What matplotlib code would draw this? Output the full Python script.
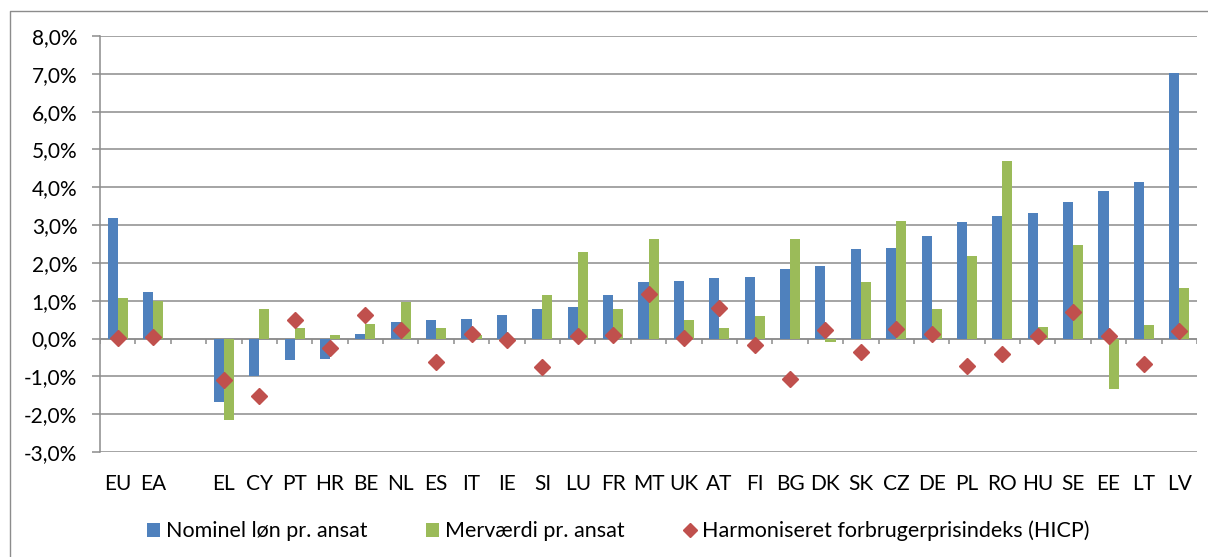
import numpy as np
import matplotlib
matplotlib.use("Agg")
import matplotlib.pyplot as plt
from matplotlib.lines import Line2D
from matplotlib.patches import Patch
from matplotlib.ticker import FuncFormatter

plt.rcParams["font.family"] = ["Lato", "DejaVu Sans"]

lande = ["EU", "EA", "", "EL", "CY", "PT", "HR", "BE", "NL", "ES", "IT", "IE",
         "SI", "LU", "FR", "MT", "UK", "AT", "FI", "BG", "DK", "SK", "CZ", "DE",
         "PL", "RO", "HU", "SE", "EE", "LT", "LV"]

nominel_loen = [3.18, 1.23, np.nan, -1.67, -1.00, -0.57, -0.55, 0.13, 0.43, 0.50,
                0.51, 0.62, 0.78, 0.84, 1.14, 1.49, 1.51, 1.61, 1.63, 1.83, 1.92,
                2.36, 2.40, 2.72, 3.08, 3.23, 3.31, 3.61, 3.89, 4.13, 7.03]

mervaerdi = [1.07, 0.99, np.nan, -2.16, 0.78, 0.28, 0.09, 0.38, 0.97, 0.27,
             0.09, 0.0, 1.15, 2.29, 0.78, 2.63, 0.48, 0.29, 0.59, 2.63, -0.10,
             1.50, 3.12, 0.78, 2.19, 4.69, 0.30, 2.47, -1.33, 0.35, 1.33]

hicp = [0.02, 0.03, np.nan, -1.10, -1.52, 0.50, -0.26, 0.62, 0.22, -0.63,
        0.13, -0.03, -0.75, 0.06, 0.09, 1.17, 0.02, 0.82, -0.16, -1.06, 0.22,
        -0.35, 0.25, 0.11, -0.72, -0.41, 0.06, 0.70, 0.07, -0.68, 0.21]

BLAA = "#4F81BD"
GROEN = "#9BBB59"
ROED = "#C0504D"
GRAA = "#8C8C8C"
W, H = 1208, 557

x = np.arange(len(lande))
bredde = 0.285

fig = plt.figure(figsize=(W / 100, H / 100), dpi=100)
ax = fig.add_axes([100 / W, 1 - 452 / H, 1097 / W, 416 / H])

ax.bar(x - bredde / 2, nominel_loen, bredde, color=BLAA, zorder=2)
ax.bar(x + bredde / 2, mervaerdi, bredde, color=GROEN, zorder=2)
ax.plot(x, hicp, linestyle="none", marker="D", markersize=7.8,
        color=ROED, zorder=3)

ax.set_xlim(-0.5, len(lande) - 0.5)
ax.set_ylim(-3, 8)
ax.set_yticks(np.arange(-3, 9, 1))
ax.yaxis.set_major_formatter(FuncFormatter(lambda v, p: f"{v:.1f}%".replace(".", ",")))
ax.grid(axis="y", color=GRAA, linewidth=1.1, zorder=0)
ax.set_axisbelow(True)

# nul-akse med streger mellem landene
ax.axhline(0, color=GRAA, linewidth=1.1, zorder=1)
ax.vlines(np.arange(len(lande) + 1) - 0.5, -0.14, 0, color=GRAA, linewidth=1.1, zorder=1)

ax.set_xticks(x)
ax.set_xticklabels(lande)
ax.tick_params(axis="x", length=0, pad=16, labelsize=15, colors="black")
ax.tick_params(axis="y", length=5.8, width=1.1, color=GRAA, pad=10.5, labelsize=15)

for s in ["top", "right", "bottom"]:
    ax.spines[s].set_visible(False)
ax.spines["left"].set_color(GRAA)
ax.spines["left"].set_linewidth(1.1)

haandtag = [
    Patch(facecolor=BLAA, edgecolor="none"),
    Patch(facecolor=GROEN, edgecolor="none"),
    Line2D([], [], linestyle="none", marker="D", markersize=7.5, color=ROED),
]
fig.legend(haandtag,
           ["Nominel løn pr. ansat", "Merværdi pr. ansat",
            "Harmoniseret forbrugerprisindeks (HICP)"],
           loc="center", bbox_to_anchor=(0.512, 1 - 531 / H), ncol=3,
           frameon=False, fontsize=15.5, handlelength=0.6, handleheight=0.6,
           handletextpad=0.3, columnspacing=2.7)

# ramme om diagramomraadet (venstre og top)
fig.add_artist(Line2D([9.5 / W, 9.5 / W, 1], [0, 1 - 10.5 / H, 1 - 10.5 / H],
                      transform=fig.transFigure, color=GRAA, linewidth=1))

fig.savefig("out.png", dpi=100)
